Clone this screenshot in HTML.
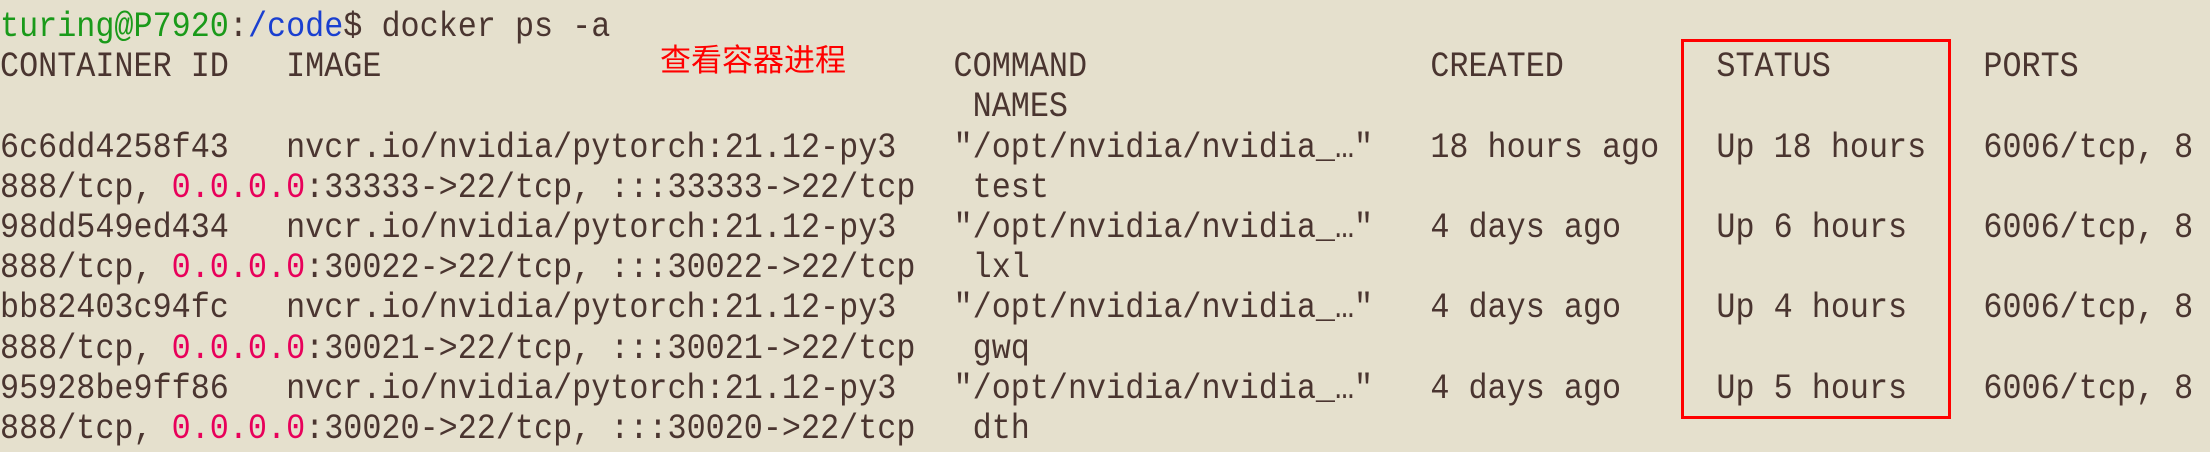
<!DOCTYPE html>
<html><head><meta charset="utf-8"><style>
html,body{margin:0;padding:0;}
body{width:2210px;height:452px;background:#e5e0cd;position:relative;overflow:hidden;}
pre{position:absolute;left:0;top:7px;margin:0;font-family:"Liberation Mono",monospace;font-size:35px;letter-spacing:0px;line-height:40.2px;color:#4a3530;transform:scaleX(0.908);transform-origin:0 0;}
.g{color:#1a9a1a}.b{color:#1a3fd0}.p{color:#e8005a}
.note{position:absolute;left:660px;top:38px;font-family:"Noto Sans CJK SC",sans-serif;font-size:31px;line-height:40px;color:#ff0000;}
.box{position:absolute;left:1681px;top:39px;width:264px;height:374px;border:3.5px solid #ff0000;}
</style></head><body>
<pre><span class="g">turing@P7920</span>:<span class="b">/code</span>$ docker ps -a
CONTAINER ID   IMAGE                              COMMAND                  CREATED        STATUS        PORTS
                                                   NAMES
6c6dd4258f43   nvcr.io/nvidia/pytorch:21.12-py3   "/opt/nvidia/nvidia_…"   18 hours ago   Up 18 hours   6006/tcp, 8
888/tcp, <span class="p">0.0.0.0</span>:33333->22/tcp, :::33333->22/tcp   test
98dd549ed434   nvcr.io/nvidia/pytorch:21.12-py3   "/opt/nvidia/nvidia_…"   4 days ago     Up 6 hours    6006/tcp, 8
888/tcp, <span class="p">0.0.0.0</span>:30022->22/tcp, :::30022->22/tcp   lxl
bb82403c94fc   nvcr.io/nvidia/pytorch:21.12-py3   "/opt/nvidia/nvidia_…"   4 days ago     Up 4 hours    6006/tcp, 8
888/tcp, <span class="p">0.0.0.0</span>:30021->22/tcp, :::30021->22/tcp   gwq
95928be9ff86   nvcr.io/nvidia/pytorch:21.12-py3   "/opt/nvidia/nvidia_…"   4 days ago     Up 5 hours    6006/tcp, 8
888/tcp, <span class="p">0.0.0.0</span>:30020->22/tcp, :::30020->22/tcp   dth</pre>
<div class="note">查看容器进程</div>
<div class="box"></div>
</body></html>
